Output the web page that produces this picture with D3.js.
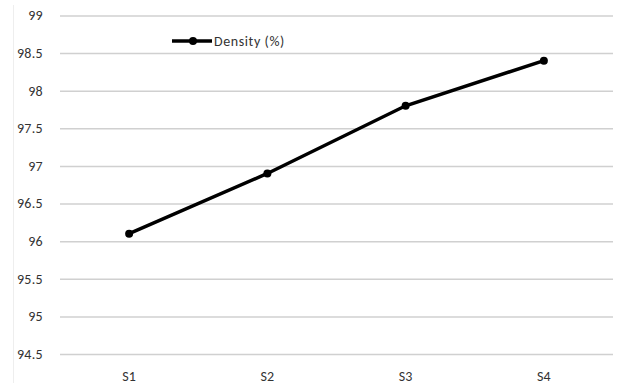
<!DOCTYPE html>
<html>
<head>
<meta charset="utf-8">
<script src="https://cdn.jsdelivr.net/npm/d3@7"></script>
<style>
  body { margin: 0; background: #fff; }
  text { font-family: Carlito, "Liberation Sans Narrow", "DejaVu Sans Condensed", "Open Sans", sans-serif; fill: #333; }
</style>
</head>
<body>
<svg id="chart" width="620" height="388"></svg>
<script>
// chart data
const samples = ["S1", "S2", "S3", "S4"];
const density = [96.1, 96.9, 97.8, 98.4];
const yTicks = [94.5, 95, 95.5, 96, 96.5, 97, 97.5, 98, 98.5, 99];
const seriesName = "Density (%)";

const margins = {top: 15.5, right: 7, bottom: 34, left: 60};
const width = 620, height = 388;

let chart = d3.select("#chart");

let xScale = d3.scaleBand()
    .domain(samples)
    .range([margins.left, width - margins.right]);

let yScale = d3.scaleLinear()
    .domain([94.5, 99])
    .range([height - margins.bottom, margins.top]);

// faint left border of chart area
chart.append("line")
    .attr("x1", 13.5).attr("x2", 13.5)
    .attr("y1", 5).attr("y2", 383)
    .attr("stroke", "#eeeeee");

// gridlines
chart.append("g")
    .attr("transform", `translate(${margins.left},0)`)
    .call(d3.axisLeft(yScale)
        .tickValues(yTicks)
        .tickSize(-(width - margins.left - margins.right))
        .tickFormat(""))
    .call(g => g.select(".domain").remove())
    .call(g => g.selectAll("line").attr("stroke", "#d0d0d0").attr("stroke-width", 1.5));

// y tick labels
chart.append("g")
    .selectAll("text").data(yTicks).enter().append("text")
    .attr("x", 43)
    .attr("y", d => yScale(d))
    .attr("dy", "0.35em")
    .attr("text-anchor", "end")
    .style("font-size", "14px")
    .style("letter-spacing", "0.3px")
    .text(d => d);

// x labels
chart.append("g")
    .selectAll("text").data(samples).enter().append("text")
    .attr("x", d => xScale(d) + xScale.bandwidth() / 2)
    .attr("y", 376)
    .attr("dy", "0.35em")
    .attr("text-anchor", "middle")
    .style("font-size", "14px")
    .text(d => d);

// line
let line = d3.line()
    .x((d, i) => xScale(samples[i]) + xScale.bandwidth() / 2)
    .y(d => yScale(d));

chart.append("path")
    .datum(density)
    .attr("d", line)
    .attr("fill", "none")
    .attr("stroke", "#000")
    .attr("stroke-width", 3.5);

chart.append("g")
    .selectAll("circle").data(density).enter().append("circle")
    .attr("cx", (d, i) => xScale(samples[i]) + xScale.bandwidth() / 2)
    .attr("cy", d => yScale(d))
    .attr("r", 4)
    .attr("fill", "#000");

// legend
let legend = chart.append("g").attr("transform", "translate(172,41)");
legend.append("line")
    .attr("x1", 0).attr("x2", 40)
    .attr("stroke", "#000").attr("stroke-width", 3.5);
legend.append("circle").attr("cx", 21).attr("r", 4).attr("fill", "#000");
legend.append("text")
    .attr("x", 42)
    .attr("dy", "0.35em")
    .style("font-size", "14px")
    .style("letter-spacing", "0.6px")
    .text(seriesName);
</script>
</body>
</html>
